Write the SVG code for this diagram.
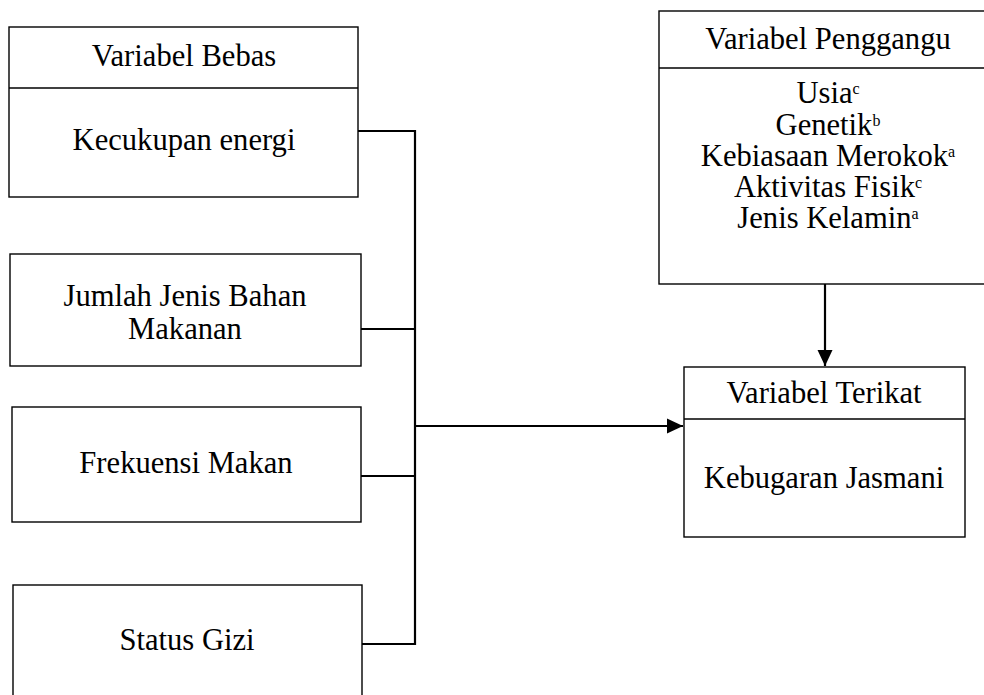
<svg xmlns="http://www.w3.org/2000/svg" width="984" height="695" viewBox="0 0 984 695">
<style>
.box{fill:#fff;stroke:#000;stroke-width:1.4}
.div{stroke:#000;stroke-width:1.6}
.t{font-family:"Liberation Serif","Times New Roman",serif;font-size:30.6px;fill:#000;text-anchor:middle}
.sup{font-size:16px}
.c{fill:none;stroke:#000;stroke-width:2.2}
</style>
<defs>
<marker id="ah" viewBox="0 0 16 16" refX="16" refY="8" markerWidth="16" markerHeight="16" markerUnits="userSpaceOnUse" orient="auto">
<path d="M0,0.5 L16,8 L0,15.5 Z" fill="#000"/>
</marker>
</defs>
<g id="connectors">
<polyline class="c" points="358,131 415,131 415,644 362,644"/>
<line class="c" x1="361" y1="329" x2="415" y2="329"/>
<line class="c" x1="361" y1="476" x2="415" y2="476"/>
<line class="c" x1="415" y1="426" x2="683" y2="426" marker-end="url(#ah)"/>
<line class="c" x1="825" y1="284" x2="825" y2="366" marker-end="url(#ah)"/>
</g>
<g id="bebas">
<rect class="box" x="9" y="27" width="349" height="170"/>
<line class="div" x1="9" y1="88" x2="358" y2="88"/>
<text class="t" x="184" y="66">Variabel Bebas</text>
<text class="t" x="184" y="150">Kecukupan energi</text>
</g>
<g id="jumlah">
<rect class="box" x="10" y="254" width="351" height="112"/>
<text class="t" x="185" y="306">Jumlah Jenis Bahan</text>
<text class="t" x="185" y="339">Makanan</text>
</g>
<g id="frekuensi">
<rect class="box" x="12" y="407" width="349" height="115"/>
<text class="t" x="186" y="473">Frekuensi Makan</text>
</g>
<g id="status">
<rect class="box" x="13" y="585" width="349" height="130"/>
<text class="t" x="187" y="650">Status Gizi</text>
</g>
<g id="penggangu">
<rect class="box" x="659" y="11" width="332" height="273"/>
<line class="div" x1="659" y1="68" x2="991" y2="68"/>
<text class="t" x="828" y="49">Variabel Penggangu</text>
<text class="t" x="828" y="103">Usia<tspan class="sup" dy="-9">c</tspan></text>
<text class="t" x="828" y="135">Genetik<tspan class="sup" dy="-9">b</tspan></text>
<text class="t" x="828" y="166">Kebiasaan Merokok<tspan class="sup" dy="-9">a</tspan></text>
<text class="t" x="828" y="197">Aktivitas Fisik<tspan class="sup" dy="-9">c</tspan></text>
<text class="t" x="828" y="228">Jenis Kelamin<tspan class="sup" dy="-9">a</tspan></text>
</g>
<g id="terikat">
<rect class="box" x="684" y="367" width="281" height="170"/>
<line class="div" x1="684" y1="419" x2="965" y2="419"/>
<text class="t" x="824" y="403">Variabel Terikat</text>
<text class="t" x="824" y="488">Kebugaran Jasmani</text>
</g>
</svg>
